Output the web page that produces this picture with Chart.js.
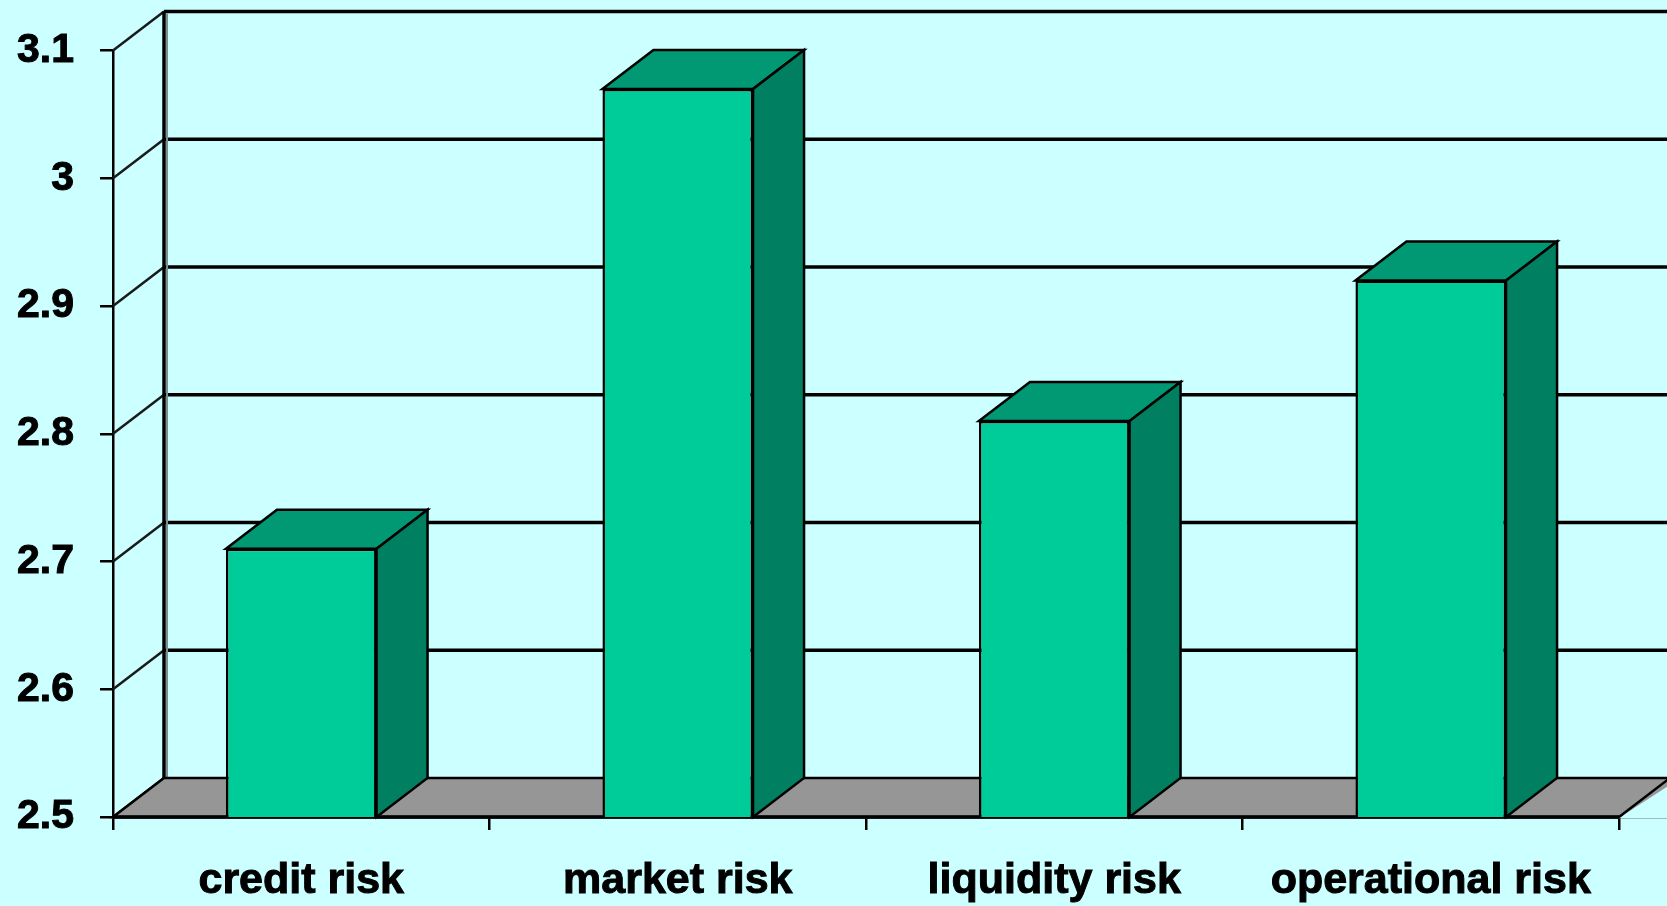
<!DOCTYPE html>
<html>
<head>
<meta charset="utf-8">
<title>Risk scores</title>
<script src="https://cdn.jsdelivr.net/npm/chart.js@4/dist/chart.umd.min.js"></script>
<style>
  html, body { margin: 0; padding: 0; background: #ccffff; overflow: hidden; }
  #wrap { position: relative; width: 1667px; height: 906px; }
</style>
</head>
<body>
<div id="wrap"><canvas id="chart"></canvas></div>
<script>
const categories = ["credit risk", "market risk", "liquidity risk", "operational risk"];
const riskScores = [2.71, 3.07, 2.81, 2.92];
const yTickValues = [2.5, 2.6, 2.7, 2.8, 2.9, 3.0, 3.1];
const yTickLabels = ["2.5", "2.6", "2.7", "2.8", "2.9", "3", "3.1"];

// depth of the fake 3D box, in pixels
const DX = 51;
const DY = 39;

const FRONT = "#00cc99";
const TOP = "#009973";
const SIDE = "#008060";
const FLOOR = "#969696";

function poly(ctx, pts, fill) {
  ctx.beginPath();
  ctx.moveTo(pts[0][0], pts[0][1]);
  for (let i = 1; i < pts.length; i++) ctx.lineTo(pts[i][0], pts[i][1]);
  ctx.closePath();
  ctx.fillStyle = fill;
  ctx.fill();
  ctx.stroke();
}

function line(ctx, x1, y1, x2, y2) {
  ctx.beginPath();
  ctx.moveTo(x1, y1);
  ctx.lineTo(x2, y2);
  ctx.stroke();
}

// floor, back wall and the extra faces of each bar
const depthPlugin = {
  id: "depth3d",
  beforeDatasetsDraw(chart) {
    const { ctx, chartArea: a, scales } = chart;
    const y = scales.y;
    ctx.save();
    ctx.lineJoin = "miter";

    // wall gridlines and the diagonals back from the axis
    y.ticks.forEach((t) => {
      const py = y.getPixelForValue(t.value);
      if (t.value > y.min) {
        ctx.strokeStyle = "#000";
        ctx.lineWidth = 3.5;
        line(ctx, a.left + DX, py - DY, a.right + DX + 5, py - DY);
      }
      ctx.strokeStyle = "#1a1a1a";
      ctx.lineWidth = 2.5;
      line(ctx, a.left, py, a.left + DX, py - DY);
    });

    // left wall edge
    ctx.strokeStyle = "#7a8f8f";
    ctx.lineWidth = 2;
    line(ctx, a.left + DX + 3, a.top - DY + 2, a.left + DX + 3, a.bottom - DY);
    ctx.strokeStyle = "#000";
    ctx.lineWidth = 3.5;
    line(ctx, a.left + DX, a.top - DY, a.left + DX, a.bottom - DY);

    // floor
    ctx.strokeStyle = "#000";
    ctx.lineWidth = 2.5;
    poly(ctx, [
      [a.left, a.bottom],
      [a.right + DX + 10, a.bottom],
      [a.right + DX + 10, a.bottom - DY],
      [a.left + DX, a.bottom - DY],
    ], FLOOR);
    ctx.fillStyle = "#ccffff";
    ctx.beginPath();
    ctx.moveTo(a.right, a.bottom + 1);
    ctx.lineTo(a.right + DX + 12, a.bottom + 1);
    ctx.lineTo(a.right + DX + 12, a.bottom - DY - 1);
    ctx.closePath();
    ctx.fill();
    line(ctx, a.right, a.bottom, a.right + DX, a.bottom - DY);
    ctx.lineWidth = 3.5;
    line(ctx, a.left, a.bottom, a.right, a.bottom);
    ctx.restore();
  },
  afterDatasetsDraw(chart) {
    const { ctx, chartArea: a } = chart;
    const meta = chart.getDatasetMeta(0);
    ctx.save();
    ctx.strokeStyle = "#000";
    ctx.lineWidth = 2.5;
    ctx.lineJoin = "miter";
    meta.data.forEach((bar) => {
      const { x, y, base, width } = bar.getProps(["x", "y", "base", "width"], true);
      // the bar grows from zero, so its base sits below the clipped area
      const b = Math.min(base, a.bottom);
      const l = x - width / 2;
      const r = x + width / 2;
      poly(ctx, [[l, y], [r, y], [r + DX, y - DY], [l + DX, y - DY]], TOP);
      poly(ctx, [[r, b], [r + DX, b - DY], [r + DX, y - DY], [r, y]], SIDE);
    });
    ctx.restore();
  },
};

Chart.defaults.font.family = "'Liberation Sans', Arial, sans-serif";
Chart.defaults.font.weight = "bold";
Chart.defaults.color = "#000";

new Chart(document.getElementById("chart"), {
  type: "bar",
  data: {
    labels: categories,
    datasets: [{
      data: riskScores,
      backgroundColor: FRONT,
      borderColor: "#000",
      borderWidth: 2.5,
      borderSkipped: false,
      categoryPercentage: 1,
      barPercentage: 0.4,
    }],
  },
  options: {
    responsive: true,
    maintainAspectRatio: false,
    animation: false,
    layout: { padding: { top: 49, right: 48, left: 0, bottom: 0 } },
    plugins: {
      legend: { display: false },
      tooltip: { enabled: false },
    },
    scales: {
      x: {
        afterFit: (scale) => { scale.height = 89; },
        grid: {
          drawOnChartArea: false,
          color: "#000",
          lineWidth: 2.5,
          tickLength: 13,
        },
        border: { display: true, color: "#000", width: 2.5 },
        ticks: {
          padding: 25,
          maxRotation: 0,
          font: { size: 43, weight: "bold" },
          textStrokeColor: "#000",
          textStrokeWidth: 1,
        },
      },
      y: {
        min: 2.5,
        max: 3.1,
        afterFit: (scale) => { scale.width = 113; },
        afterBuildTicks: (scale) => {
          scale.ticks = yTickValues.map((v) => ({ value: v }));
        },
        grid: {
          drawOnChartArea: false,
          color: "#000",
          lineWidth: 2.5,
          tickLength: 13,
        },
        border: { display: true, color: "#000", width: 2.5 },
        ticks: {
          padding: 26,
          font: { size: 41, weight: "bold" },
          textStrokeColor: "#000",
          textStrokeWidth: 1,
          callback: (value, index) => yTickLabels[index],
        },
      },
    },
  },
  plugins: [depthPlugin],
});
</script>
</body>
</html>
